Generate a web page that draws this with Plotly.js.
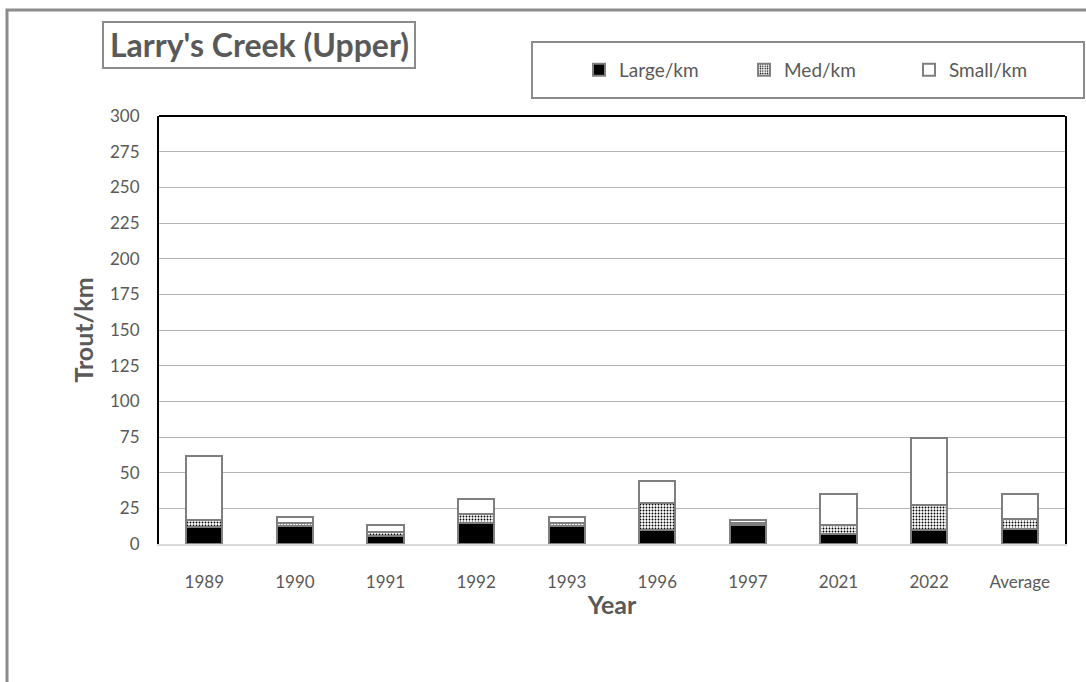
<!DOCTYPE html>
<html>
<head>
<meta charset="utf-8">
<script src="https://cdn.plot.ly/plotly-3.0.1.min.js"></script>
<style>html,body{margin:0;padding:0;background:#fff;}#chart{width:1086px;height:682px;}</style>
</head>
<body>
<div id="chart"></div>
<script>
const years = ["1989", "1990", "1991", "1992", "1993", "1996", "1997", "2021", "2022", "Average"];
const largePerKm = [12, 12.5, 5.5, 14.5, 12.5, 10, 13, 7, 10, 10.5];
const medPerKm = [4.5, 2, 3, 6.5, 2, 18.5, 2, 6, 17, 7];
const smallPerKm = [45.5, 4.5, 5, 10.5, 4.5, 15.5, 1.5, 22, 47, 17.5];
const yTicks = [0, 25, 50, 75, 100, 125, 150, 175, 200, 225, 250, 275, 300];

const W = 1086, H = 682;
const L = 159, R = 1065, T = 116, B = 544;
const px = x => (x - L) / (R - L);
const py = y => (B - y) / (B - T);

const grey = '#7f7f7f';
const txt = '#595959';
const fontFam = 'Lato, "Open Sans", sans-serif';

const traces = [
  {type: 'bar', name: 'Large/km', x: years, y: largePerKm,
   marker: {color: '#000000', line: {color: grey, width: 2}}},
  {type: 'bar', name: 'Med/km', x: years, y: medPerKm,
   marker: {color: '#ffffff', line: {color: grey, width: 2},
            pattern: {shape: '.', fgcolor: '#000000', bgcolor: '#ffffff', size: 3, solidity: 0.3}}},
  {type: 'bar', name: 'Small/km', x: years, y: smallPerKm,
   marker: {color: '#ffffff', line: {color: grey, width: 2}}}
];

const layout = {
  width: W, height: H,
  margin: {l: L, r: W - R, t: T, b: H - B},
  paper_bgcolor: '#ffffff', plot_bgcolor: '#ffffff',
  barmode: 'stack', bargap: 0.6,
  font: {family: fontFam, color: txt, size: 17},
  showlegend: true,
  legend: {orientation: 'h', x: px(579), xanchor: 'left', y: py(70), yanchor: 'middle',
           font: {size: 19, color: txt, family: fontFam}, traceorder: 'normal',
           entrywidth: 120, entrywidthmode: 'pixels', bgcolor: 'rgba(0,0,0,0)', itemclick: false},
  xaxis: {type: 'category', showgrid: false, showline: true, linecolor: '#d9d9d9', linewidth: 2,
          ticks: '', ticklabelstandoff: 22, tickfont: {size: 17, color: txt},
          title: {text: 'Year', font: {size: 25, color: txt, family: fontFam, weight: 'bold'}, standoff: 5},
          fixedrange: true},
  yaxis: {range: [0, 300], tickvals: yTicks, showgrid: true, gridcolor: '#b3b3b3', gridwidth: 1,
          showline: true, mirror: true, linecolor: '#000000', linewidth: 2, zeroline: false,
          ticks: '', ticklabelstandoff: 14, tickfont: {size: 17, color: txt},
          title: {text: 'Trout/km', font: {size: 25, color: txt, family: fontFam, weight: 'bold'}, standoff: 9},
          fixedrange: true},
  shapes: [
    {type: 'line', xref: 'paper', yref: 'paper', x0: 0, x1: 1, y0: 1, y1: 1, line: {color: '#000000', width: 2}},
    {type: 'rect', xref: 'paper', yref: 'paper', x0: px(7), x1: px(1095), y0: py(10), y1: py(700), line: {color: '#8c8c8c', width: 3}},
    {type: 'rect', xref: 'paper', yref: 'paper', x0: px(103), x1: px(415), y0: py(68), y1: py(22), line: {color: '#8c8c8c', width: 2}},
    {type: 'rect', xref: 'paper', yref: 'paper', x0: px(532), x1: px(1084), y0: py(98), y1: py(42), line: {color: '#8c8c8c', width: 2}}
  ],
  annotations: [
    {text: "Larry's Creek (Upper)", xref: 'paper', yref: 'paper', x: px(259), y: py(45), xanchor: 'center', yanchor: 'middle',
     showarrow: false, font: {size: 32, color: txt, family: fontFam, weight: 'bold'}}
  ]
};

Plotly.newPlot('chart', traces, layout, {displayModeBar: false, staticPlot: true});
</script>
</body>
</html>
